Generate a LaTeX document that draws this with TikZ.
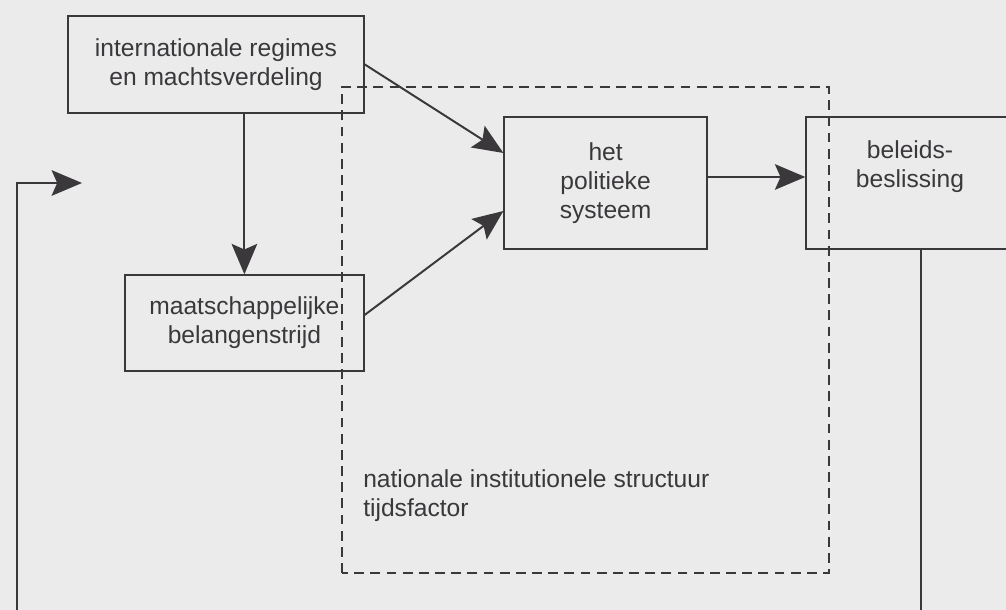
\documentclass[tikz,border=0pt]{standalone}
\usepackage{fontspec}
\setmainfont{Liberation Sans}
\usepackage{tikz}
\usetikzlibrary{arrows.meta}
\definecolor{ink}{HTML}{3A383B}
\definecolor{paper}{HTML}{EBEBEB}

\begin{document}
\begin{tikzpicture}[
    every node/.style={text=ink, font=\fontsize{17.5}{20.5}\selectfont},
    box/.style={draw=ink, line width=1pt, align=center, inner sep=0pt},
    link/.style={draw=ink, line width=1.4pt, -{Stealth[length=7.6mm, width=6.4mm, inset=1.4mm]}},
    frame/.style={draw=ink, line width=1.4pt, dash pattern=on 7pt off 4.5pt}
]
    % Page
    \fill[paper] (0, 0) rectangle (25.15, 15.25);
    \useasboundingbox (0, 0) rectangle (25.15, 15.25);

    % National institutional structure (dashed)
    \draw[frame] (8.55, 0.925) rectangle (20.725, 13.075);
    \node[anchor=west, align=left, inner sep=0pt] (nis) at (9.075, 2.86) {nationale institutionele structuur\\tijdsfactor};

    % Boxes
    \node[box, minimum width=7.4cm, minimum height=2.425cm] (ir) at (5.4, 13.64) {internationale regimes\\en machtsverdeling};
    \node[box, minimum width=5.975cm, minimum height=2.4cm] (mb) at (6.11, 7.175) {maatschappelijke\\belangenstrijd};
    \node[box, minimum width=5.075cm, minimum height=3.3cm] (pol) at (15.14, 10.675) {het\\politieke\\systeem};
    \node[box, minimum width=5.2cm, minimum height=3.3cm] (bb) at (22.75, 10.675) {beleids-\\beslissing\\\strut};

    % Influences
    \draw[link] (ir.east) -- ([yshift=0.75cm]pol.west);
    \draw[link] (mb.north |- ir.south) -- (mb.north);
    \draw[link] ([yshift=0.2cm]mb.east) -- ([yshift=-0.7cm]pol.west);
    \draw[link] ([yshift=0.15cm]pol.east) -- ([yshift=0.15cm]pol.east -| bb.west);

    % Feedback loop
    \coordinate (fb) at (2.05, 10.675);
    \draw[link] ([xshift=0.275cm]bb.south) -- ++(0, -9.6) -| (0.425, 10.675) -- (fb);
\end{tikzpicture}
\end{document}
